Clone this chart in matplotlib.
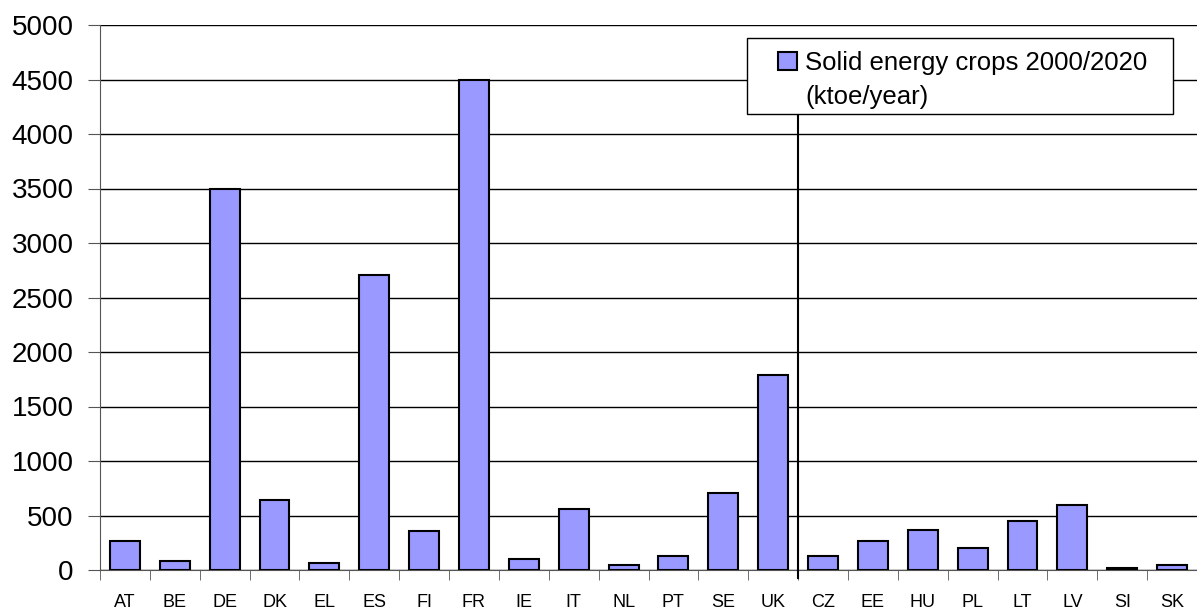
import matplotlib.pyplot as plt
from matplotlib.patches import Rectangle
import numpy as np

DPI = 100

# Данные
countries = ["AT", "BE", "DE", "DK", "EL", "ES", "FI", "FR", "IE", "IT", "NL",
             "PT", "SE", "UK", "CZ", "EE", "HU", "PL", "LT", "LV", "SI", "SK"]
crops = [265, 85, 3500, 640, 65, 2710, 360, 4500, 100, 560, 50,
         130, 710, 1790, 130, 265, 365, 200, 445, 595, 15, 50]
legend_label = "Solid energy crops 2000/2020"
legend_unit = "(ktoe/year)"
split_after = "UK"  # граница между группами стран

plt.rcParams['font.family'] = ['Liberation Sans', 'DejaVu Sans']

W, H = 1197, 611
fig = plt.figure(figsize=(W/DPI, H/DPI), dpi=DPI)
ax = fig.add_axes([100/W, 41/H, 1097/W, 545/H])

x = np.arange(len(countries))
ax.bar(x, crops, width=0.6, color="#9999FF", edgecolor="black", linewidth=1.5,
       label=legend_label, zorder=3)

ax.set_xlim(-0.5, len(countries) - 0.5)
ax.set_ylim(0, 5000)
ax.set_yticks(np.arange(0, 5001, 500))
ax.yaxis.grid(True, color="black", linewidth=1, zorder=0)
ax.set_axisbelow(True)

# Подписи по центру, риски между категориями
ax.set_xticks(x)
ax.set_xticklabels(countries, fontsize=13)
ax.set_xticks(np.arange(-0.5, len(countries)), minor=True)
ax.tick_params(axis="x", which="major", length=0, pad=17)
ax.tick_params(axis="x", which="minor", length=7, color="#555555")
ax.tick_params(axis="y", labelsize=20, length=9, color="#555555", pad=10)

for s in ["top", "right"]:
    ax.spines[s].set_visible(False)
ax.spines["left"].set_color("#555555")
ax.spines["bottom"].set_color("#555555")

# Вертикальная линия-разделитель
sx = countries.index(split_after) + 0.5
ax.axvline(sx, ymin=-0.015, ymax=(570 - 114) / 545, color="black", linewidth=1.5,
           clip_on=False, zorder=4)

# Рамка легенды рисуется отдельно
frame = Rectangle((747/W, 1 - 114/H), (1173 - 747)/W, (114 - 38)/H,
                  transform=fig.transFigure, facecolor="white", edgecolor="black",
                  linewidth=1, zorder=5, clip_on=False)
ax.add_patch(frame)

leg = ax.legend(loc="upper left", bbox_to_anchor=(778/W, 1 - 51/H),
                bbox_transform=fig.transFigure, fontsize=18.5, frameon=False,
                handlelength=0.75, handleheight=0.75, handletextpad=0.3,
                borderpad=0, borderaxespad=0)
leg.set_zorder(6)
# вторая строка подписи легенды
ax.text(805/W, 1 - 104/H, legend_unit, transform=fig.transFigure, fontsize=18.5,
        va="baseline", ha="left", zorder=7)

plt.savefig("out.png", dpi=DPI)
plt.close()
